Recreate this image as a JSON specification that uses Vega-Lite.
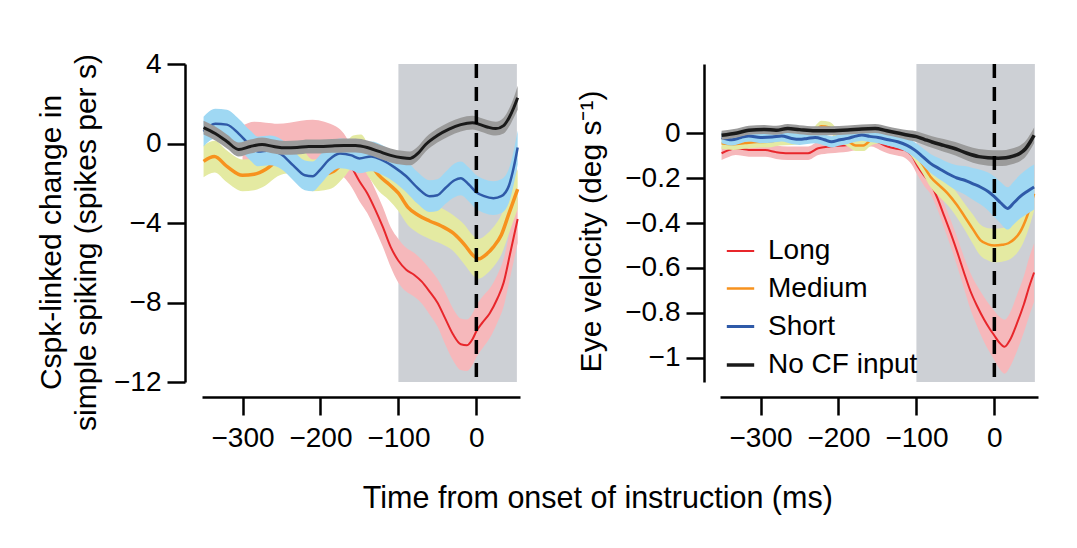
{
"$schema": "https://vega.github.io/schema/vega-lite/v6.json",
"background": "white",
"padding": {"left": 36, "top": 50, "right": 5, "bottom": 5},
"config": {"font": "Liberation Sans", "view": {"stroke": null}, "axis": {"grid": false, "domainColor": "black", "domainWidth": 2.5, "tickColor": "black", "tickWidth": 2.5, "tickSize": 18, "labelColor": "black", "labelFontSize": 28, "titleColor": "black", "titleFontWeight": "normal", "titleFontSize": 30}},
"title": {"text": "Time from onset of instruction (ms)", "orient": "bottom", "anchor": "middle", "fontSize": 30.5, "fontWeight": "normal", "color": "black", "offset": 32, "dx": 59},
"spacing": 200,
"bounds": "flush",
"datasets": {
"shade": [{"a": -100, "b": 52}],
"zero": [{"t": 0}],
"L": [
{"s":"Long","t":-300,"v":-0.2,"lo":-1.3,"hi":0.9},{"s":"Long","t":-285,"v":-0.05,"lo":-1.2,"hi":1.1},{"s":"Long","t":-270,"v":-0.1,"lo":-1.25,"hi":1.05},{"s":"Long","t":-255,"v":-0.15,"lo":-1.3,"hi":1.0},{"s":"Long","t":-240,"v":-0.1,"lo":-1.25,"hi":1.05},{"s":"Long","t":-225,"v":0.0,"lo":-1.15,"hi":1.15},{"s":"Long","t":-210,"v":0.05,"lo":-1.1,"hi":1.2},{"s":"Long","t":-195,"v":-0.05,"lo":-1.2,"hi":1.1},{"s":"Long","t":-180,"v":-0.3,"lo":-1.45,"hi":0.85},{"s":"Long","t":-170,"v":-0.6,"lo":-1.7,"hi":0.5},{"s":"Long","t":-160,"v":-1.2,"lo":-2.2,"hi":-0.2},{"s":"Long","t":-150,"v":-1.9,"lo":-2.9,"hi":-0.9},{"s":"Long","t":-140,"v":-2.5,"lo":-3.5,"hi":-1.5},{"s":"Long","t":-130,"v":-3.3,"lo":-4.3,"hi":-2.3},{"s":"Long","t":-120,"v":-4.2,"lo":-5.2,"hi":-3.2},{"s":"Long","t":-110,"v":-5.2,"lo":-6.2,"hi":-4.2},{"s":"Long","t":-100,"v":-5.9,"lo":-7.0,"hi":-4.8},{"s":"Long","t":-90,"v":-6.35,"lo":-7.45,"hi":-5.25},{"s":"Long","t":-80,"v":-6.6,"lo":-7.7,"hi":-5.5},{"s":"Long","t":-70,"v":-6.95,"lo":-8.05,"hi":-5.85},{"s":"Long","t":-60,"v":-7.45,"lo":-8.6,"hi":-6.3},{"s":"Long","t":-50,"v":-8.0,"lo":-9.2,"hi":-6.8},{"s":"Long","t":-40,"v":-8.8,"lo":-10.1,"hi":-7.5},{"s":"Long","t":-30,"v":-9.6,"lo":-10.9,"hi":-8.3},{"s":"Long","t":-20,"v":-10.1,"lo":-11.4,"hi":-8.8},{"s":"Long","t":-12,"v":-10.15,"lo":-11.45,"hi":-8.85},{"s":"Long","t":-5,"v":-9.85,"lo":-11.15,"hi":-8.55},{"s":"Long","t":0,"v":-9.45,"lo":-10.75,"hi":-8.15},{"s":"Long","t":8,"v":-9.0,"lo":-10.3,"hi":-7.7},{"s":"Long","t":17,"v":-8.55,"lo":-9.8,"hi":-7.3},{"s":"Long","t":27,"v":-7.8,"lo":-9.0,"hi":-6.6},{"s":"Long","t":35,"v":-7.0,"lo":-8.2,"hi":-5.8},{"s":"Long","t":43,"v":-5.6,"lo":-6.8,"hi":-4.4},{"s":"Long","t":53,"v":-3.8,"lo":-5.0,"hi":-2.6},
{"s":"Medium","t":-350,"v":-0.9,"lo":-1.7,"hi":-0.1},{"s":"Medium","t":-336,"v":-0.66,"lo":-1.46,"hi":0.14},{"s":"Medium","t":-320,"v":-1.15,"lo":-1.95,"hi":-0.35},{"s":"Medium","t":-300,"v":-1.6,"lo":-2.4,"hi":-0.8},{"s":"Medium","t":-285,"v":-1.55,"lo":-2.35,"hi":-0.75},{"s":"Medium","t":-270,"v":-1.3,"lo":-2.1,"hi":-0.5},{"s":"Medium","t":-255,"v":-0.85,"lo":-1.65,"hi":-0.05},{"s":"Medium","t":-240,"v":-0.7,"lo":-1.5,"hi":0.1},{"s":"Medium","t":-225,"v":-1.0,"lo":-1.8,"hi":-0.2},{"s":"Medium","t":-210,"v":-1.6,"lo":-2.4,"hi":-0.8},{"s":"Medium","t":-195,"v":-1.55,"lo":-2.35,"hi":-0.75},{"s":"Medium","t":-183,"v":-1.4,"lo":-2.2,"hi":-0.6},{"s":"Medium","t":-170,"v":-0.9,"lo":-1.7,"hi":-0.1},{"s":"Medium","t":-158,"v":-0.4,"lo":-1.2,"hi":0.4},{"s":"Medium","t":-148,"v":-0.35,"lo":-1.15,"hi":0.45},{"s":"Medium","t":-138,"v":-0.9,"lo":-1.7,"hi":-0.1},{"s":"Medium","t":-125,"v":-1.6,"lo":-2.4,"hi":-0.8},{"s":"Medium","t":-112,"v":-2.05,"lo":-2.85,"hi":-1.25},{"s":"Medium","t":-100,"v":-2.5,"lo":-3.4,"hi":-1.6},{"s":"Medium","t":-88,"v":-3.2,"lo":-4.1,"hi":-2.3},{"s":"Medium","t":-75,"v":-3.6,"lo":-4.5,"hi":-2.7},{"s":"Medium","t":-60,"v":-3.9,"lo":-4.8,"hi":-3.0},{"s":"Medium","t":-45,"v":-4.15,"lo":-5.05,"hi":-3.25},{"s":"Medium","t":-30,"v":-4.5,"lo":-5.4,"hi":-3.6},{"s":"Medium","t":-15,"v":-5.1,"lo":-6.1,"hi":-4.1},{"s":"Medium","t":-5,"v":-5.6,"lo":-6.6,"hi":-4.6},{"s":"Medium","t":3,"v":-5.8,"lo":-6.8,"hi":-4.8},{"s":"Medium","t":12,"v":-5.6,"lo":-6.6,"hi":-4.6},{"s":"Medium","t":22,"v":-5.2,"lo":-6.2,"hi":-4.2},{"s":"Medium","t":32,"v":-4.6,"lo":-5.6,"hi":-3.6},{"s":"Medium","t":42,"v":-3.5,"lo":-4.5,"hi":-2.5},{"s":"Medium","t":53,"v":-2.3,"lo":-3.3,"hi":-1.3},
{"s":"Short","t":-350,"v":0.6,"lo":-0.15,"hi":1.35},{"s":"Short","t":-335,"v":1.0,"lo":0.25,"hi":1.75},{"s":"Short","t":-320,"v":0.95,"lo":0.2,"hi":1.7},{"s":"Short","t":-305,"v":0.5,"lo":-0.25,"hi":1.25},{"s":"Short","t":-290,"v":-0.1,"lo":-0.85,"hi":0.65},{"s":"Short","t":-280,"v":-0.4,"lo":-1.15,"hi":0.35},{"s":"Short","t":-265,"v":-0.35,"lo":-1.1,"hi":0.4},{"s":"Short","t":-250,"v":-0.55,"lo":-1.3,"hi":0.2},{"s":"Short","t":-235,"v":-1.1,"lo":-1.85,"hi":-0.35},{"s":"Short","t":-220,"v":-1.6,"lo":-2.35,"hi":-0.85},{"s":"Short","t":-210,"v":-1.65,"lo":-2.4,"hi":-0.9},{"s":"Short","t":-200,"v":-1.3,"lo":-2.05,"hi":-0.55},{"s":"Short","t":-190,"v":-0.85,"lo":-1.6,"hi":-0.1},{"s":"Short","t":-175,"v":-0.5,"lo":-1.25,"hi":0.25},{"s":"Short","t":-160,"v":-0.6,"lo":-1.35,"hi":0.15},{"s":"Short","t":-150,"v":-0.75,"lo":-1.5,"hi":0.0},{"s":"Short","t":-135,"v":-0.65,"lo":-1.4,"hi":0.1},{"s":"Short","t":-120,"v":-0.85,"lo":-1.6,"hi":-0.1},{"s":"Short","t":-105,"v":-1.2,"lo":-1.95,"hi":-0.45},{"s":"Short","t":-90,"v":-1.65,"lo":-2.45,"hi":-0.85},{"s":"Short","t":-75,"v":-2.25,"lo":-3.05,"hi":-1.45},{"s":"Short","t":-60,"v":-2.65,"lo":-3.45,"hi":-1.85},{"s":"Short","t":-50,"v":-2.6,"lo":-3.4,"hi":-1.8},{"s":"Short","t":-40,"v":-2.25,"lo":-3.05,"hi":-1.45},{"s":"Short","t":-28,"v":-1.85,"lo":-2.7,"hi":-1.0},{"s":"Short","t":-20,"v":-1.75,"lo":-2.6,"hi":-0.9},{"s":"Short","t":-10,"v":-2.05,"lo":-2.9,"hi":-1.2},{"s":"Short","t":0,"v":-2.45,"lo":-3.3,"hi":-1.6},{"s":"Short","t":10,"v":-2.65,"lo":-3.5,"hi":-1.8},{"s":"Short","t":22,"v":-2.75,"lo":-3.6,"hi":-1.9},{"s":"Short","t":32,"v":-2.65,"lo":-3.5,"hi":-1.8},{"s":"Short","t":42,"v":-2.1,"lo":-2.95,"hi":-1.25},{"s":"Short","t":48,"v":-1.2,"lo":-2.05,"hi":-0.35},{"s":"Short","t":53,"v":-0.2,"lo":-1.05,"hi":0.65},
{"s":"No CF input","t":-350,"v":0.8,"lo":0.45,"hi":1.15},{"s":"No CF input","t":-335,"v":0.5,"lo":0.15,"hi":0.85},{"s":"No CF input","t":-320,"v":0.1,"lo":-0.25,"hi":0.45},{"s":"No CF input","t":-305,"v":-0.3,"lo":-0.65,"hi":0.05},{"s":"No CF input","t":-290,"v":-0.15,"lo":-0.5,"hi":0.2},{"s":"No CF input","t":-275,"v":-0.05,"lo":-0.4,"hi":0.3},{"s":"No CF input","t":-260,"v":-0.15,"lo":-0.5,"hi":0.2},{"s":"No CF input","t":-245,"v":-0.22,"lo":-0.57,"hi":0.13},{"s":"No CF input","t":-230,"v":-0.2,"lo":-0.55,"hi":0.15},{"s":"No CF input","t":-215,"v":-0.15,"lo":-0.5,"hi":0.2},{"s":"No CF input","t":-200,"v":-0.15,"lo":-0.5,"hi":0.2},{"s":"No CF input","t":-185,"v":-0.12,"lo":-0.47,"hi":0.23},{"s":"No CF input","t":-170,"v":-0.1,"lo":-0.45,"hi":0.25},{"s":"No CF input","t":-155,"v":-0.1,"lo":-0.45,"hi":0.25},{"s":"No CF input","t":-140,"v":-0.2,"lo":-0.55,"hi":0.15},{"s":"No CF input","t":-125,"v":-0.4,"lo":-0.75,"hi":-0.05},{"s":"No CF input","t":-110,"v":-0.6,"lo":-0.95,"hi":-0.25},{"s":"No CF input","t":-95,"v":-0.72,"lo":-1.07,"hi":-0.37},{"s":"No CF input","t":-85,"v":-0.75,"lo":-1.1,"hi":-0.4},{"s":"No CF input","t":-75,"v":-0.5,"lo":-0.85,"hi":-0.15},{"s":"No CF input","t":-65,"v":-0.05,"lo":-0.4,"hi":0.3},{"s":"No CF input","t":-50,"v":0.4,"lo":0.05,"hi":0.75},{"s":"No CF input","t":-35,"v":0.72,"lo":0.37,"hi":1.07},{"s":"No CF input","t":-20,"v":0.95,"lo":0.6,"hi":1.3},{"s":"No CF input","t":-5,"v":1.05,"lo":0.7,"hi":1.4},{"s":"No CF input","t":5,"v":0.95,"lo":0.6,"hi":1.3},{"s":"No CF input","t":15,"v":0.82,"lo":0.47,"hi":1.17},{"s":"No CF input","t":25,"v":0.75,"lo":0.4,"hi":1.1},{"s":"No CF input","t":35,"v":0.9,"lo":0.5,"hi":1.3},{"s":"No CF input","t":42,"v":1.3,"lo":0.85,"hi":1.75},{"s":"No CF input","t":48,"v":1.8,"lo":1.3,"hi":2.3},{"s":"No CF input","t":53,"v":2.3,"lo":1.7,"hi":2.9}
],
"R": [
{"s":"Long","t":-350,"v":-0.09,"lo":-0.12,"hi":-0.06},{"s":"Long","t":-340,"v":-0.075,"lo":-0.105,"hi":-0.045},{"s":"Long","t":-332,"v":-0.068,"lo":-0.098,"hi":-0.038},{"s":"Long","t":-315,"v":-0.075,"lo":-0.105,"hi":-0.045},{"s":"Long","t":-294,"v":-0.076,"lo":-0.106,"hi":-0.046},{"s":"Long","t":-280,"v":-0.085,"lo":-0.115,"hi":-0.055},{"s":"Long","t":-265,"v":-0.09,"lo":-0.12,"hi":-0.06},{"s":"Long","t":-250,"v":-0.09,"lo":-0.12,"hi":-0.06},{"s":"Long","t":-239,"v":-0.09,"lo":-0.12,"hi":-0.06},{"s":"Long","t":-226,"v":-0.068,"lo":-0.098,"hi":-0.038},{"s":"Long","t":-210,"v":-0.06,"lo":-0.09,"hi":-0.03},{"s":"Long","t":-188,"v":-0.053,"lo":-0.083,"hi":-0.023},{"s":"Long","t":-170,"v":-0.04,"lo":-0.07,"hi":-0.01},{"s":"Long","t":-158,"v":-0.03,"lo":-0.06,"hi":0.0},{"s":"Long","t":-147,"v":-0.045,"lo":-0.075,"hi":-0.015},{"s":"Long","t":-137,"v":-0.06,"lo":-0.09,"hi":-0.03},{"s":"Long","t":-125,"v":-0.07,"lo":-0.1,"hi":-0.04},{"s":"Long","t":-115,"v":-0.076,"lo":-0.11,"hi":-0.042},{"s":"Long","t":-106,"v":-0.1,"lo":-0.14,"hi":-0.06},{"s":"Long","t":-98,"v":-0.15,"lo":-0.19,"hi":-0.11},{"s":"Long","t":-90,"v":-0.19,"lo":-0.235,"hi":-0.145},{"s":"Long","t":-82,"v":-0.224,"lo":-0.27,"hi":-0.178},{"s":"Long","t":-73,"v":-0.29,"lo":-0.34,"hi":-0.24},{"s":"Long","t":-64,"v":-0.372,"lo":-0.427,"hi":-0.317},{"s":"Long","t":-55,"v":-0.455,"lo":-0.515,"hi":-0.395},{"s":"Long","t":-47,"v":-0.535,"lo":-0.6,"hi":-0.47},{"s":"Long","t":-39,"v":-0.62,"lo":-0.69,"hi":-0.55},{"s":"Long","t":-31,"v":-0.7,"lo":-0.78,"hi":-0.62},{"s":"Long","t":-22,"v":-0.77,"lo":-0.86,"hi":-0.68},{"s":"Long","t":-13,"v":-0.83,"lo":-0.93,"hi":-0.73},{"s":"Long","t":-6,"v":-0.87,"lo":-0.975,"hi":-0.765},{"s":"Long","t":0,"v":-0.9,"lo":-1.01,"hi":-0.79},{"s":"Long","t":6,"v":-0.93,"lo":-1.045,"hi":-0.815},{"s":"Long","t":13,"v":-0.95,"lo":-1.07,"hi":-0.83},{"s":"Long","t":20,"v":-0.92,"lo":-1.04,"hi":-0.8},{"s":"Long","t":29,"v":-0.846,"lo":-0.97,"hi":-0.72},{"s":"Long","t":38,"v":-0.76,"lo":-0.885,"hi":-0.635},{"s":"Long","t":45,"v":-0.68,"lo":-0.81,"hi":-0.55},{"s":"Long","t":51,"v":-0.62,"lo":-0.75,"hi":-0.49},
{"s":"Medium","t":-350,"v":-0.046,"lo":-0.071,"hi":-0.021},{"s":"Medium","t":-335,"v":-0.05,"lo":-0.075,"hi":-0.025},{"s":"Medium","t":-320,"v":-0.045,"lo":-0.07,"hi":-0.02},{"s":"Medium","t":-305,"v":-0.04,"lo":-0.065,"hi":-0.015},{"s":"Medium","t":-290,"v":-0.039,"lo":-0.064,"hi":-0.014},{"s":"Medium","t":-275,"v":-0.03,"lo":-0.055,"hi":-0.005},{"s":"Medium","t":-260,"v":-0.028,"lo":-0.053,"hi":-0.003},{"s":"Medium","t":-245,"v":-0.02,"lo":-0.045,"hi":0.005},{"s":"Medium","t":-232,"v":0.0,"lo":-0.025,"hi":0.025},{"s":"Medium","t":-222,"v":0.03,"lo":0.005,"hi":0.055},{"s":"Medium","t":-212,"v":0.025,"lo":0.0,"hi":0.05},{"s":"Medium","t":-200,"v":-0.01,"lo":-0.035,"hi":0.015},{"s":"Medium","t":-188,"v":-0.035,"lo":-0.06,"hi":-0.01},{"s":"Medium","t":-178,"v":-0.055,"lo":-0.08,"hi":-0.03},{"s":"Medium","t":-168,"v":-0.055,"lo":-0.08,"hi":-0.03},{"s":"Medium","t":-158,"v":-0.03,"lo":-0.055,"hi":-0.005},{"s":"Medium","t":-148,"v":-0.02,"lo":-0.045,"hi":0.005},{"s":"Medium","t":-136,"v":-0.02,"lo":-0.045,"hi":0.005},{"s":"Medium","t":-124,"v":-0.024,"lo":-0.05,"hi":0.002},{"s":"Medium","t":-112,"v":-0.05,"lo":-0.08,"hi":-0.02},{"s":"Medium","t":-102,"v":-0.09,"lo":-0.125,"hi":-0.055},{"s":"Medium","t":-92,"v":-0.14,"lo":-0.18,"hi":-0.1},{"s":"Medium","t":-82,"v":-0.194,"lo":-0.24,"hi":-0.148},{"s":"Medium","t":-70,"v":-0.235,"lo":-0.285,"hi":-0.185},{"s":"Medium","t":-60,"v":-0.268,"lo":-0.32,"hi":-0.216},{"s":"Medium","t":-48,"v":-0.32,"lo":-0.375,"hi":-0.265},{"s":"Medium","t":-38,"v":-0.372,"lo":-0.43,"hi":-0.314},{"s":"Medium","t":-28,"v":-0.425,"lo":-0.49,"hi":-0.36},{"s":"Medium","t":-18,"v":-0.476,"lo":-0.545,"hi":-0.407},{"s":"Medium","t":-8,"v":-0.495,"lo":-0.567,"hi":-0.423},{"s":"Medium","t":0,"v":-0.5,"lo":-0.575,"hi":-0.425},{"s":"Medium","t":10,"v":-0.497,"lo":-0.572,"hi":-0.422},{"s":"Medium","t":18,"v":-0.49,"lo":-0.565,"hi":-0.415},{"s":"Medium","t":26,"v":-0.47,"lo":-0.545,"hi":-0.395},{"s":"Medium","t":33,"v":-0.44,"lo":-0.515,"hi":-0.365},{"s":"Medium","t":42,"v":-0.37,"lo":-0.445,"hi":-0.295},{"s":"Medium","t":51,"v":-0.27,"lo":-0.345,"hi":-0.195},
{"s":"Short","t":-350,"v":-0.02,"lo":-0.045,"hi":0.005},{"s":"Short","t":-337,"v":-0.03,"lo":-0.055,"hi":-0.005},{"s":"Short","t":-325,"v":-0.02,"lo":-0.045,"hi":0.005},{"s":"Short","t":-315,"v":-0.013,"lo":-0.038,"hi":0.012},{"s":"Short","t":-300,"v":-0.02,"lo":-0.045,"hi":0.005},{"s":"Short","t":-285,"v":-0.018,"lo":-0.043,"hi":0.007},{"s":"Short","t":-273,"v":-0.013,"lo":-0.038,"hi":0.012},{"s":"Short","t":-260,"v":-0.024,"lo":-0.049,"hi":0.001},{"s":"Short","t":-250,"v":-0.028,"lo":-0.053,"hi":-0.003},{"s":"Short","t":-240,"v":-0.024,"lo":-0.049,"hi":0.001},{"s":"Short","t":-230,"v":-0.02,"lo":-0.045,"hi":0.005},{"s":"Short","t":-218,"v":-0.03,"lo":-0.055,"hi":-0.005},{"s":"Short","t":-209,"v":-0.039,"lo":-0.064,"hi":-0.014},{"s":"Short","t":-198,"v":-0.03,"lo":-0.055,"hi":-0.005},{"s":"Short","t":-188,"v":-0.024,"lo":-0.049,"hi":0.001},{"s":"Short","t":-178,"v":-0.014,"lo":-0.039,"hi":0.011},{"s":"Short","t":-170,"v":-0.009,"lo":-0.034,"hi":0.016},{"s":"Short","t":-160,"v":-0.015,"lo":-0.04,"hi":0.01},{"s":"Short","t":-149,"v":-0.02,"lo":-0.045,"hi":0.005},{"s":"Short","t":-136,"v":-0.03,"lo":-0.057,"hi":-0.003},{"s":"Short","t":-124,"v":-0.039,"lo":-0.068,"hi":-0.01},{"s":"Short","t":-112,"v":-0.055,"lo":-0.087,"hi":-0.023},{"s":"Short","t":-102,"v":-0.076,"lo":-0.111,"hi":-0.041},{"s":"Short","t":-92,"v":-0.105,"lo":-0.143,"hi":-0.067},{"s":"Short","t":-82,"v":-0.135,"lo":-0.177,"hi":-0.093},{"s":"Short","t":-70,"v":-0.16,"lo":-0.207,"hi":-0.113},{"s":"Short","t":-60,"v":-0.18,"lo":-0.23,"hi":-0.13},{"s":"Short","t":-48,"v":-0.2,"lo":-0.257,"hi":-0.143},{"s":"Short","t":-38,"v":-0.21,"lo":-0.273,"hi":-0.147},{"s":"Short","t":-28,"v":-0.225,"lo":-0.295,"hi":-0.155},{"s":"Short","t":-18,"v":-0.24,"lo":-0.317,"hi":-0.163},{"s":"Short","t":-8,"v":-0.26,"lo":-0.344,"hi":-0.176},{"s":"Short","t":0,"v":-0.283,"lo":-0.373,"hi":-0.193},{"s":"Short","t":8,"v":-0.31,"lo":-0.402,"hi":-0.218},{"s":"Short","t":17,"v":-0.335,"lo":-0.429,"hi":-0.241},{"s":"Short","t":25,"v":-0.31,"lo":-0.405,"hi":-0.215},{"s":"Short","t":33,"v":-0.283,"lo":-0.38,"hi":-0.186},{"s":"Short","t":42,"v":-0.26,"lo":-0.36,"hi":-0.16},{"s":"Short","t":51,"v":-0.24,"lo":-0.34,"hi":-0.14},
{"s":"No CF input","t":-350,"v":-0.01,"lo":-0.03,"hi":0.01},{"s":"No CF input","t":-330,"v":0.0,"lo":-0.02,"hi":0.02},{"s":"No CF input","t":-315,"v":0.012,"lo":-0.008,"hi":0.032},{"s":"No CF input","t":-295,"v":0.016,"lo":-0.004,"hi":0.036},{"s":"No CF input","t":-280,"v":0.012,"lo":-0.008,"hi":0.032},{"s":"No CF input","t":-265,"v":0.02,"lo":0.0,"hi":0.04},{"s":"No CF input","t":-250,"v":0.015,"lo":-0.005,"hi":0.035},{"s":"No CF input","t":-230,"v":0.01,"lo":-0.01,"hi":0.03},{"s":"No CF input","t":-210,"v":0.01,"lo":-0.01,"hi":0.03},{"s":"No CF input","t":-188,"v":0.013,"lo":-0.007,"hi":0.033},{"s":"No CF input","t":-170,"v":0.018,"lo":-0.002,"hi":0.038},{"s":"No CF input","t":-153,"v":0.02,"lo":0.0,"hi":0.04},{"s":"No CF input","t":-138,"v":0.01,"lo":-0.01,"hi":0.03},{"s":"No CF input","t":-124,"v":0.0,"lo":-0.02,"hi":0.02},{"s":"No CF input","t":-110,"v":-0.01,"lo":-0.032,"hi":0.012},{"s":"No CF input","t":-100,"v":-0.016,"lo":-0.04,"hi":0.008},{"s":"No CF input","t":-90,"v":-0.028,"lo":-0.053,"hi":-0.003},{"s":"No CF input","t":-80,"v":-0.04,"lo":-0.066,"hi":-0.014},{"s":"No CF input","t":-65,"v":-0.055,"lo":-0.083,"hi":-0.027},{"s":"No CF input","t":-50,"v":-0.07,"lo":-0.1,"hi":-0.04},{"s":"No CF input","t":-35,"v":-0.09,"lo":-0.122,"hi":-0.058},{"s":"No CF input","t":-20,"v":-0.105,"lo":-0.139,"hi":-0.071},{"s":"No CF input","t":-8,"v":-0.11,"lo":-0.145,"hi":-0.075},{"s":"No CF input","t":5,"v":-0.112,"lo":-0.147,"hi":-0.077},{"s":"No CF input","t":15,"v":-0.11,"lo":-0.145,"hi":-0.075},{"s":"No CF input","t":25,"v":-0.102,"lo":-0.137,"hi":-0.067},{"s":"No CF input","t":33,"v":-0.09,"lo":-0.125,"hi":-0.055},{"s":"No CF input","t":40,"v":-0.07,"lo":-0.105,"hi":-0.035},{"s":"No CF input","t":46,"v":-0.04,"lo":-0.075,"hi":-0.005},{"s":"No CF input","t":51,"v":-0.01,"lo":-0.045,"hi":0.025}
]
},
"hconcat": [
{
"width": 318, "height": 318,
"data": {"name": "L"},
"layer": [
{"data": {"name": "shade"}, "mark": {"type": "rect", "color": "#cdd0d5"},
 "encoding": {"x": {"field": "a", "type": "quantitative", "scale": {"domain": [-352, 56], "nice": false, "zero": false}, "axis": {"values": [-300, -200, -100, 0], "format": "d", "offset": 15, "labelPadding": 9, "title": null}}, "x2": {"field": "b"}}},
{"transform": [{"filter": "datum.s === 'Long'"}], "mark": {"type": "area", "interpolate": "monotone", "color": "#f6b8bb", "opacity": 1},
 "encoding": {"x": {"field": "t", "type": "quantitative"},
  "y": {"field": "lo", "type": "quantitative", "scale": {"domain": [-12, 4], "nice": false, "zero": false}, "axis": {"values": [4, 0, -4, -8, -12], "format": "d", "offset": 17, "labelPadding": 6, "title": ["Cspk-linked change in", "simple spiking (spikes per s)"], "titleLineHeight": 35, "titlePadding": 12, "titleY": 178}},
  "y2": {"field": "hi"}}},
{"transform": [{"filter": "datum.s === 'Long'"}], "mark": {"type": "line", "interpolate": "monotone", "color": "#e8262b", "strokeWidth": 2},
 "encoding": {"x": {"field": "t", "type": "quantitative"}, "y": {"field": "v", "type": "quantitative"}}},
{"transform": [{"filter": "datum.s === 'Medium'"}], "mark": {"type": "area", "interpolate": "monotone", "color": "#e4eaa2", "opacity": 1},
 "encoding": {"x": {"field": "t", "type": "quantitative"}, "y": {"field": "lo", "type": "quantitative"}, "y2": {"field": "hi"}}},
{"transform": [{"filter": "datum.s === 'Medium'"}], "mark": {"type": "line", "interpolate": "monotone", "color": "#f7921e", "strokeWidth": 3.5},
 "encoding": {"x": {"field": "t", "type": "quantitative"}, "y": {"field": "v", "type": "quantitative"}}},
{"transform": [{"filter": "datum.s === 'Short'"}], "mark": {"type": "area", "interpolate": "monotone", "color": "#9fd8f3", "opacity": 1},
 "encoding": {"x": {"field": "t", "type": "quantitative"}, "y": {"field": "lo", "type": "quantitative"}, "y2": {"field": "hi"}}},
{"transform": [{"filter": "datum.s === 'Short'"}], "mark": {"type": "line", "interpolate": "monotone", "color": "#2f5aa8", "strokeWidth": 2.5},
 "encoding": {"x": {"field": "t", "type": "quantitative"}, "y": {"field": "v", "type": "quantitative"}}},
{"transform": [{"filter": "datum.s === 'No CF input'"}], "mark": {"type": "area", "interpolate": "monotone", "color": "#9b9b9b", "opacity": 1},
 "encoding": {"x": {"field": "t", "type": "quantitative"}, "y": {"field": "lo", "type": "quantitative"}, "y2": {"field": "hi"}}},
{"transform": [{"filter": "datum.s === 'No CF input'"}], "mark": {"type": "line", "interpolate": "monotone", "color": "#1a1a1a", "strokeWidth": 3},
 "encoding": {"x": {"field": "t", "type": "quantitative"}, "y": {"field": "v", "type": "quantitative"}}},
{"data": {"name": "zero"}, "mark": {"type": "rule", "color": "black", "strokeWidth": 3.5, "strokeDash": [14, 9]},
 "encoding": {"x": {"field": "t", "type": "quantitative"}}}
]
},
{
"width": 318, "height": 318,
"data": {"name": "R"},
"layer": [
{"data": {"name": "shade"}, "mark": {"type": "rect", "color": "#cdd0d5"},
 "encoding": {"x": {"field": "a", "type": "quantitative", "scale": {"domain": [-352, 56], "nice": false, "zero": false}, "axis": {"values": [-300, -200, -100, 0], "format": "d", "offset": 15, "labelPadding": 9, "title": null}}, "x2": {"field": "b"}}},
{"transform": [{"filter": "datum.s === 'Long'"}], "mark": {"type": "area", "interpolate": "monotone", "color": "#f6b8bb", "opacity": 1},
 "encoding": {"x": {"field": "t", "type": "quantitative"},
  "y": {"field": "lo", "type": "quantitative", "scale": {"domain": [-1.1067, 0.3067], "nice": false, "zero": false}, "axis": {"values": [0, -0.2, -0.4, -0.6, -0.8, -1], "format": ".1~f", "offset": 16, "labelPadding": 6, "title": "Eye velocity (deg s⁻¹)", "titlePadding": 18, "titleY": 167}},
  "y2": {"field": "hi"}}},
{"transform": [{"filter": "datum.s === 'Long'"}], "mark": {"type": "line", "interpolate": "monotone"},
 "encoding": {"x": {"field": "t", "type": "quantitative"}, "y": {"field": "v", "type": "quantitative"},
  "color": {"field": "s", "type": "nominal", "scale": {"domain": ["Long", "Medium", "Short", "No CF input"], "range": ["#e8262b", "#f7921e", "#2f5aa8", "#1a1a1a"]},
   "legend": {"orient": "none", "legendX": 523, "legendY": 172, "title": null, "labelFontSize": 28, "labelColor": "black", "symbolType": "stroke", "symbolSize": 750, "rowPadding": 8.5, "labelOffset": 12}},
  "strokeWidth": {"field": "s", "type": "nominal", "scale": {"domain": ["Long", "Medium", "Short", "No CF input"], "range": [2, 3.5, 2.5, 3]}}}},
{"transform": [{"filter": "datum.s === 'Medium'"}], "mark": {"type": "area", "interpolate": "monotone", "color": "#e4eaa2", "opacity": 1},
 "encoding": {"x": {"field": "t", "type": "quantitative"}, "y": {"field": "lo", "type": "quantitative"}, "y2": {"field": "hi"}}},
{"transform": [{"filter": "datum.s === 'Medium'"}], "mark": {"type": "line", "interpolate": "monotone"},
 "encoding": {"x": {"field": "t", "type": "quantitative"}, "y": {"field": "v", "type": "quantitative"}, "color": {"field": "s", "type": "nominal"}, "strokeWidth": {"field": "s", "type": "nominal"}}},
{"transform": [{"filter": "datum.s === 'Short'"}], "mark": {"type": "area", "interpolate": "monotone", "color": "#9fd8f3", "opacity": 1},
 "encoding": {"x": {"field": "t", "type": "quantitative"}, "y": {"field": "lo", "type": "quantitative"}, "y2": {"field": "hi"}}},
{"transform": [{"filter": "datum.s === 'Short'"}], "mark": {"type": "line", "interpolate": "monotone"},
 "encoding": {"x": {"field": "t", "type": "quantitative"}, "y": {"field": "v", "type": "quantitative"}, "color": {"field": "s", "type": "nominal"}, "strokeWidth": {"field": "s", "type": "nominal"}}},
{"transform": [{"filter": "datum.s === 'No CF input'"}], "mark": {"type": "area", "interpolate": "monotone", "color": "#9b9b9b", "opacity": 1},
 "encoding": {"x": {"field": "t", "type": "quantitative"}, "y": {"field": "lo", "type": "quantitative"}, "y2": {"field": "hi"}}},
{"transform": [{"filter": "datum.s === 'No CF input'"}], "mark": {"type": "line", "interpolate": "monotone"},
 "encoding": {"x": {"field": "t", "type": "quantitative"}, "y": {"field": "v", "type": "quantitative"}, "color": {"field": "s", "type": "nominal"}, "strokeWidth": {"field": "s", "type": "nominal"}}},
{"data": {"name": "zero"}, "mark": {"type": "rule", "color": "black", "strokeWidth": 3.5, "strokeDash": [14, 9]},
 "encoding": {"x": {"field": "t", "type": "quantitative"}}}
]
}
]
}
